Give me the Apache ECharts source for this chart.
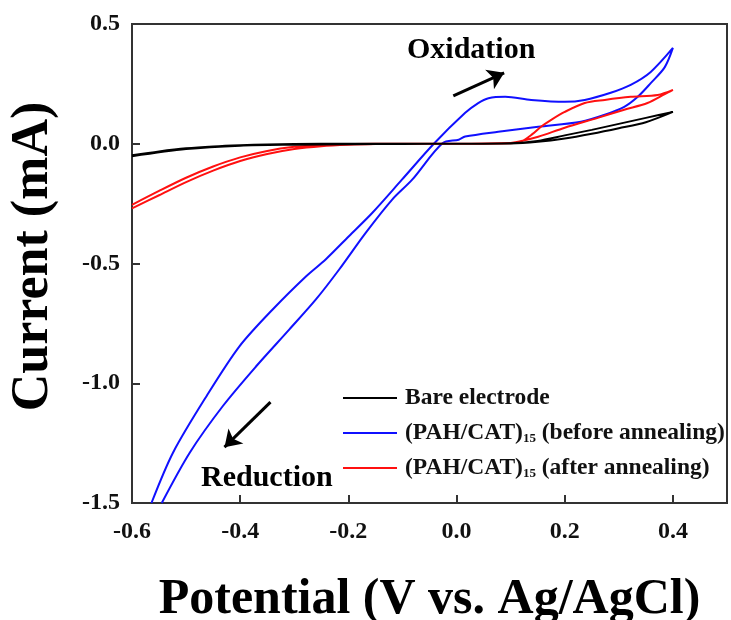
<!DOCTYPE html>
<html><head><meta charset="utf-8">
<script src="https://cdn.jsdelivr.net/npm/echarts@6/dist/echarts.min.js"></script>
<style>html,body{margin:0;padding:0;background:#fff}#c{width:731px;height:620px}</style>
</head><body><div id="c"></div>
<script>
// Bare electrode
const bareX = [-0.6,-0.55,-0.5,-0.45,-0.4,-0.35,-0.3,-0.2,-0.1,0,0.1,0.15,0.2,0.25,0.3,0.35,0.4,0.35,0.3,0.25,0.2,0.15,0.1,0,-0.1,-0.2,-0.3,-0.4,-0.5,-0.6];
const bareY = [-0.048,-0.032,-0.019,-0.011,-0.006,-0.003,-0.001,0,0,0,0.002,0.012,0.035,0.058,0.083,0.108,0.133,0.09,0.065,0.042,0.022,0.008,0.001,0,-0.001,-0.002,-0.004,-0.008,-0.022,-0.052];
// (PAH/CAT)15 before annealing
const beforeX = [-0.564,-0.524,-0.462,-0.401,-0.34,-0.278,-0.242,-0.199,-0.156,-0.101,-0.042,0.016,0.04,0.059,0.09,0.138,0.2,0.237,0.285,0.322,0.359,0.4,0.385,0.359,0.335,0.31,0.274,0.23,0.151,0.077,0.016,0.004,-0.026,-0.082,-0.119,-0.168,-0.217,-0.26,-0.309,-0.37,-0.432,-0.493,-0.545];
const beforeY = [-1.5,-1.289,-1.053,-0.845,-0.692,-0.553,-0.483,-0.386,-0.289,-0.15,0,0.129,0.17,0.19,0.196,0.183,0.175,0.183,0.213,0.246,0.3,0.4,0.32,0.253,0.196,0.154,0.121,0.092,0.071,0.05,0.03,0.017,0.002,-0.15,-0.233,-0.372,-0.525,-0.65,-0.775,-0.928,-1.095,-1.289,-1.5];
// (PAH/CAT)15 after annealing
const afterX = [-0.6,-0.55,-0.5,-0.45,-0.4,-0.35,-0.3,-0.25,-0.2,-0.15,-0.1,0,0.1,0.12,0.14,0.156,0.175,0.2,0.237,0.274,0.322,0.372,0.4,0.385,0.353,0.31,0.261,0.2,0.151,0.114,0.1,0,-0.1,-0.15,-0.2,-0.25,-0.3,-0.35,-0.4,-0.45,-0.5,-0.55,-0.6];
const afterY = [-0.27,-0.215,-0.16,-0.112,-0.072,-0.043,-0.022,-0.01,-0.004,-0.001,0,0,0.002,0.01,0.04,0.071,0.1,0.133,0.17,0.183,0.196,0.204,0.225,0.207,0.17,0.142,0.108,0.067,0.029,0.008,0.003,0,0,0,-0.001,-0.005,-0.013,-0.03,-0.057,-0.095,-0.142,-0.197,-0.255];

const seriesNames = ['Bare electrode', '(PAH/CAT){sub|15} (before annealing)', '(PAH/CAT){sub|15} (after annealing)'];
const seriesColors = ['#000000', '#1010ff', '#ff1010'];
const xAxisTitle = 'Potential (V vs. Ag/AgCl)';
const yAxisTitle = 'Current (mA)';

function pairs(xs, ys){ return xs.map((x,i)=>[x, ys[i]]); }
const font = '"Liberation Serif", "Times New Roman", serif';
const chart = echarts.init(document.getElementById('c'));
const allData = [pairs(bareX,bareY), pairs(beforeX,beforeY), pairs(afterX,afterY)];
const series = allData.map((d,i)=>({
  name: seriesNames[i], type: 'line', data: d, showSymbol: false, symbol: 'none',
  smooth: 0.3, lineStyle: {color: seriesColors[i], width: 2}, itemStyle:{color: seriesColors[i]},
  z: i===0 ? 4 : (i===2 ? 3 : 2), animation: false
}));
series.push({
  type: 'line', data: [], silent: true, animation: false,
  markLine: {
    silent: true, symbol: ['none','arrow'], symbolSize: [16, 16],
    lineStyle: {color: '#000', width: 3, type: 'solid'}, label: {show: false},
    data: [
      [{coord: [-0.006, 0.2]}, {coord: [0.088, 0.296]}],
      [{coord: [-0.344, -1.079]}, {coord: [-0.429, -1.267]}]
    ]
  }
});
chart.setOption({
  backgroundColor: '#fff',
  animation: false,
  grid: {left: 132, right: 4, top: 24, bottom: 117, containLabel: false, outerBoundsMode: 'none',
    show: true, borderColor: '#333', borderWidth: 2},
  xAxis: {
    type: 'value', min: -0.6, max: 0.5, interval: 0.2,
    name: xAxisTitle, nameLocation: 'middle', nameGap: 72,
    nameTextStyle: {fontFamily: font, fontWeight: 'bold', fontSize: 50, color: '#000'},
    axisLine: {show: true, onZero: false, lineStyle: {color: '#333', width: 2}},
    axisTick: {show: true, inside: true, length: 8, lineStyle: {color: '#333', width: 2}},
    axisLabel: {fontFamily: font, fontWeight: 'bold', fontSize: 24, color: '#111', margin: 17,
      showMaxLabel: false, formatter: v => v > 0.45 ? '' : v.toFixed(1)},
    splitLine: {show: false}
  },
  yAxis: {
    type: 'value', min: -1.5, max: 0.5, interval: 0.5,
    name: yAxisTitle, nameLocation: 'middle', nameGap: 72, nameRotate: 90,
    nameTextStyle: {fontFamily: font, fontWeight: 'bold', fontSize: 52, color: '#000', padding: [0, 0, 0, 14]},
    axisLine: {show: true, onZero: false, lineStyle: {color: '#333', width: 2}},
    axisTick: {show: true, inside: true, length: 8, lineStyle: {color: '#333', width: 2}},
    axisLabel: {fontFamily: font, fontWeight: 'bold', fontSize: 24, color: '#111', margin: 12,
      formatter: v => v.toFixed(1)},
    splitLine: {show: false}
  },
  legend: {
    orient: 'vertical', left: 338, top: 381, itemGap: 10, itemWidth: 54, itemHeight: 2, icon: 'rect',
    data: seriesNames,
    textStyle: {fontFamily: font, fontWeight: 'bold', fontSize: 23.5, color: '#111', lineHeight: 24, padding: [0,0,0,3],
      rich: {sub: {fontFamily: font, fontWeight: 'bold', fontSize: 13, color: '#111', lineHeight: 14, padding: [12,0,0,0], verticalAlign: 'bottom'}}}
  },
  graphic: [
    {type: 'text', left: 407, top: 35, style: {text: 'Oxidation', font: 'bold 30px ' + font, fill: '#000'}},
    {type: 'text', left: 201, top: 463, style: {text: 'Reduction', font: 'bold 30px ' + font, fill: '#000'}}
  ],
  series: series
});
</script></body></html>
